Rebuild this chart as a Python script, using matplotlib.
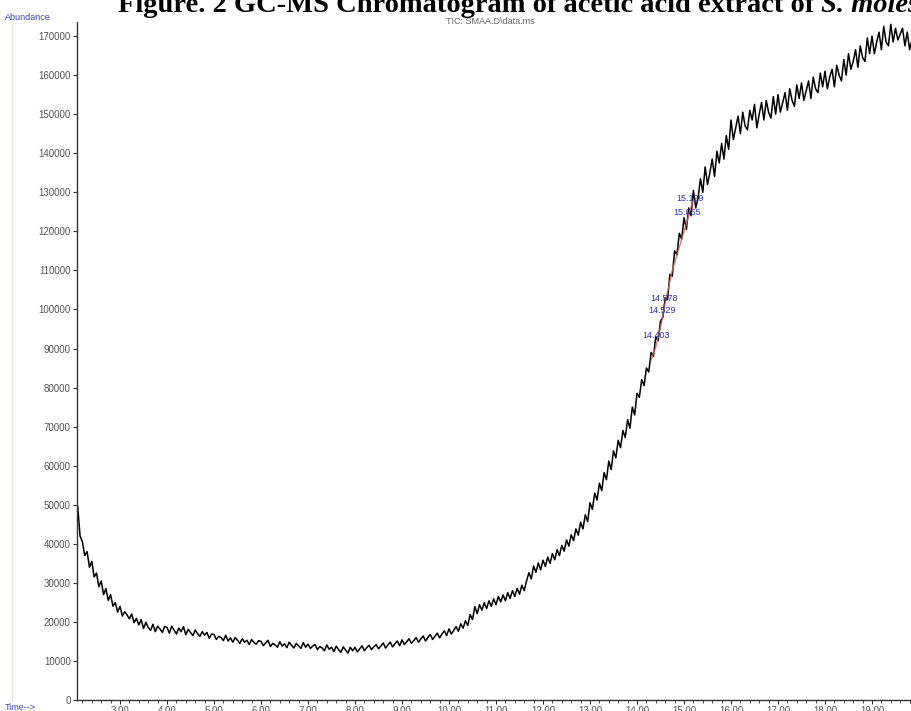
import numpy as np
import matplotlib
matplotlib.use("Agg")
import matplotlib.pyplot as plt
from matplotlib.ticker import MultipleLocator, FormatStrFormatter
from matplotlib.lines import Line2D

# TIC trace, one value every 0.05 min starting at 2.10 min
scan_start = 2.10
scan_step = 0.05
abundance = [
    # 2.10 - 2.95
    49500, 42000, 40500, 37000, 38000, 34000, 35500, 31500, 32500, 29000,
    30500, 27000, 28500, 25500, 27000, 24000, 25000, 22500,
    # 3.00 - 3.95
    24000, 21500, 22600, 21800, 20800, 22000, 19800, 20900, 19200, 20600,
    18300, 19900, 18600, 17800, 19400, 17500, 18900, 18200, 17300, 18800,
    # 4.00 - 4.95
    18600, 17100, 18900, 17900, 16900, 18400, 17500, 18800, 16700, 18100,
    17300, 16500, 17900, 17000, 16300, 17500, 16600, 17300, 15800, 16900,
    # 5.00 - 5.95
    16800, 15500, 16300, 16000, 15200, 16600, 15100, 15900, 14800, 16000,
    15300, 14500, 15700, 14800, 15300, 14200, 15500, 14700, 14300, 15200,
    # 6.00 - 6.95
    15000, 13900, 14600, 15300, 13700, 14500, 14100, 13500, 14900, 13800,
    14400, 13400, 14800, 14000, 13300, 14500, 13900, 13200, 14700, 13500,
    # 7.00 - 7.95
    14300, 13200, 13800, 14200, 12900, 13700, 13300, 12600, 14100, 13000,
    13500, 12400, 13800, 12900, 12200, 13600, 12800, 12000, 13500, 12600,
    # 8.00 - 8.95
    13500, 12300, 13100, 13900, 12600, 13400, 14000, 12900, 13600, 14200,
    13100, 13800, 14600, 13300, 14100, 14800, 13600, 14400, 15100, 13900,
    # 9.00 - 9.95
    15400, 14200, 14900, 15700, 14500, 15200, 16000, 14800, 15600, 16400,
    15100, 16000, 16800, 15500, 16300, 17100, 15900, 16900, 17700, 16500,
    # 10.00 - 10.95
    18200, 16900, 17800, 18800, 17600, 19500, 18400, 20300, 19100, 21900,
    20600, 23900, 22100, 24400, 23000, 24900, 23400, 25400, 24000, 25900,
    # 11.00 - 11.95
    24400, 26500, 25100, 26900, 25400, 27500, 26000, 28000, 26500, 28600,
    27100, 29400, 28000, 30500, 32600, 31000, 34300, 32700, 35100, 33300,
    # 12.00 - 12.95
    35800, 34200, 36600, 35000, 37500, 35900, 38500, 37000, 39600, 38100,
    41000, 39400, 42300, 40800, 43800, 42200, 45500, 43800, 47400, 45700,
    # 13.00 - 13.95
    50500, 48800, 53000, 51200, 55500, 53600, 58200, 56400, 61200, 59000,
    63800, 62000, 66500, 64600, 69000, 67200, 71800, 69600, 75000, 73000,
    # 14.00 - 14.95
    78500, 77500, 82000, 80500, 85000, 84000, 89000, 88000, 93000, 92000,
    97000, 98000, 103000, 102500, 109000, 108500, 115000, 114000, 119500, 118000,
    # 15.00 - 15.95
    123500, 120500, 126000, 124000, 130500, 126000, 128500, 133500, 130000, 136500,
    132000, 135000, 138500, 134000, 140500, 137500, 142500, 138500, 144500, 141000,
    # 16.00 - 16.95
    148500, 143500, 146500, 149500, 145000, 150500, 147000, 146000, 151000, 148500,
    152500, 146500, 150000, 153000, 148500, 153500, 150500, 149000, 154500, 150000,
    # 17.00 - 17.95
    155000, 150500, 153000, 155500, 151000, 156500, 153500, 152000, 157500, 154000,
    158000, 153500, 156000, 158500, 154000, 159500, 156500, 155500, 160500, 157000,
    # 18.00 - 18.95
    161000, 156500, 159500, 161500, 157000, 162500, 160000, 158500, 164000, 160000,
    165500, 161500, 163500, 166500, 162000, 167500, 164500, 163500, 169500, 165500,
    # 19.00 - 19.85
    170000, 165500, 168500, 171000, 166500, 172500, 168500, 167500, 173000, 168500,
    172000, 169000, 170500, 172000, 167500, 171000, 166500, 169000,
]
times = scan_start + scan_step * np.arange(len(abundance))

# integrated peaks: retention time, label height
peak_rt = [14.403, 14.529, 14.578, 15.065, 15.129]
peak_label_y = [93400, 99800, 102900, 124700, 128300]

# integration baseline drawn in red
base_t = [14.30, 14.403, 14.529, 14.578, 14.75, 15.065, 15.129, 15.20]
base_y = [87000, 90500, 97000, 100500, 110000, 122500, 125500, 128000]

fig = plt.figure(figsize=(9.12, 7.11), dpi=100)
ax = fig.add_axes([77 / 912, 11 / 711, 835 / 912, 678 / 711])

ax.plot(times, abundance, color="black", lw=1.1, zorder=2)
ax.plot(base_t, base_y, color="#e05a5a", lw=1.0, alpha=0.85, zorder=3)

for rt, ly in zip(peak_rt, peak_label_y):
    ax.text(rt, ly, "%.3f" % rt, color="#2b35b0", fontsize=6.5,
            ha="center", va="center", family="Liberation Sans", zorder=4)

ax.set_xlim(2.085, 19.851)
ax.set_ylim(0, 173600)

ax.xaxis.set_major_locator(MultipleLocator(1))
ax.xaxis.set_minor_locator(MultipleLocator(0.2))
ax.xaxis.set_major_formatter(FormatStrFormatter("%.2f"))
ax.yaxis.set_major_locator(MultipleLocator(10000))
ax.yaxis.set_major_formatter(FormatStrFormatter("%d"))

for s in ["top", "right"]:
    ax.spines[s].set_visible(False)
for s in ["left", "bottom"]:
    ax.spines[s].set_color("#333333")
    ax.spines[s].set_linewidth(1.0)

ax.tick_params(axis="both", which="major", length=3, width=0.8,
               color="#333333", labelsize=7, labelcolor="#555555", pad=1.5)
ax.tick_params(axis="x", which="minor", length=2, width=0.6, color="#333333")
for lab in ax.get_xticklabels() + ax.get_yticklabels():
    lab.set_family("Liberation Sans")

# header and small labels
fig.text(5 / 912, 1 - 17 / 711, "Abundance", color="#3344bb", fontsize=6.5,
         va="center", family="Liberation Sans")
fig.text(490 / 912, 1 - 21 / 711, "TIC: SMAA.D\\data.ms", color="#666666",
         fontsize=6.5, ha="center", va="center", family="Liberation Sans")
fig.text(5 / 912, 1 - 708 / 711, "Time-->", color="#3344bb", fontsize=6.5,
         va="center", family="Liberation Sans")

fig.add_artist(Line2D([12 / 912, 12 / 912], [11 / 711, 1 - 20 / 711],
                      color="#e3eedd", lw=1.0))

t1 = fig.text(118 / 912, 1 - 12 / 711,
              "Figure. 2 GC-MS Chromatogram of acetic acid extract of ",
              fontsize=20.5, fontweight="bold", family="Liberation Serif",
              va="baseline")
fig.canvas.draw()
bb = t1.get_window_extent()
fig.text(bb.x1 / fig.bbox.width, 1 - 12 / 711, "S. molesta",
         fontsize=20.5, fontweight="bold", fontstyle="italic",
         family="Liberation Serif", va="baseline")

fig.savefig("out.png", dpi=100)
